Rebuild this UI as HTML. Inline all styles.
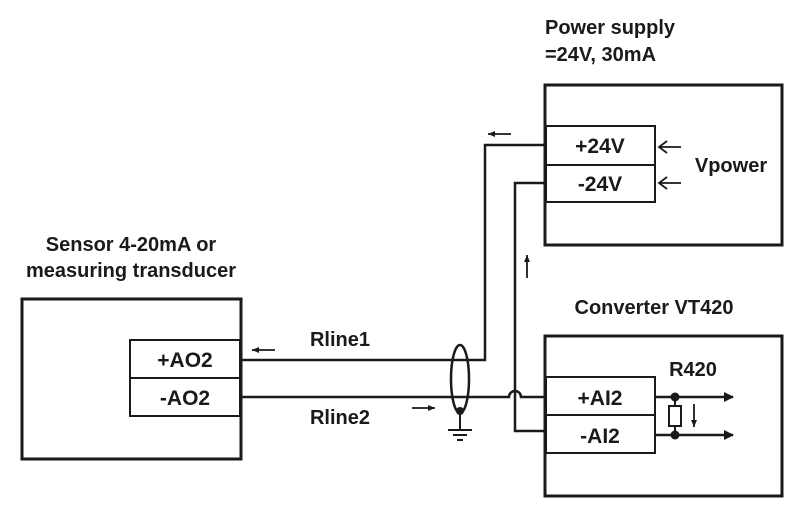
<!DOCTYPE html>
<html><head><style>
body{margin:0;background:#fff}
svg text{font-family:"Liberation Sans",sans-serif;font-weight:bold;fill:#1a1a1a}
</style></head><body>
<svg width="800" height="516" viewBox="0 0 800 516" xmlns="http://www.w3.org/2000/svg">
<defs>
<marker id="ah" markerWidth="10" markerHeight="10" refX="9" refY="5" orient="auto" markerUnits="userSpaceOnUse"><path d="M0,0 L10,5 L0,10 Z" fill="#1a1a1a"/></marker>
<marker id="sa" markerWidth="8" markerHeight="8" refX="7" refY="4" orient="auto" markerUnits="userSpaceOnUse"><path d="M0,1 L7,4 L0,7 Z" fill="#1a1a1a"/></marker>
</defs>
<g stroke="#1a1a1a" fill="none">
<rect x="22" y="299" width="219" height="160" stroke-width="3"/>
<rect x="545" y="85" width="237" height="160" stroke-width="3"/>
<rect x="545" y="336" width="237" height="160" stroke-width="3"/>
<rect x="130" y="340" width="110" height="76" stroke-width="2"/><line x1="130" y1="378" x2="240" y2="378" stroke-width="2"/>
<rect x="546" y="126" width="109" height="76" stroke-width="2"/><line x1="546" y1="165" x2="655" y2="165" stroke-width="2"/>
<rect x="546" y="377" width="109" height="76" stroke-width="2"/><line x1="546" y1="415" x2="655" y2="415" stroke-width="2"/>
<polyline points="241,360 485,360 485,145 546,145" stroke-width="2.5"/>
<path d="M241,397 L509,397 A6,6 0 0 1 521,397 L546,397" stroke-width="2.5"/>
<polyline points="546,183 515,183 515,431 546,431" stroke-width="2.5"/>
<ellipse cx="460" cy="379" rx="9" ry="34" stroke-width="2.5"/>
<line x1="460" y1="411" x2="460" y2="430" stroke-width="2"/>
<line x1="448" y1="430" x2="472" y2="430" stroke-width="2"/>
<line x1="453" y1="435" x2="467" y2="435" stroke-width="2"/>
<line x1="457" y1="440" x2="463" y2="440" stroke-width="2"/>
<line x1="655" y1="397" x2="733" y2="397" stroke-width="2.5" marker-end="url(#ah)"/>
<line x1="655" y1="435" x2="733" y2="435" stroke-width="2.5" marker-end="url(#ah)"/>
<line x1="675" y1="397" x2="675" y2="435" stroke-width="2"/>
<rect x="669" y="406" width="12" height="20" fill="#fff" stroke-width="2"/>
<line x1="275" y1="350" x2="252" y2="350" stroke-width="1.8" marker-end="url(#sa)"/>
<line x1="412" y1="408" x2="435" y2="408" stroke-width="1.8" marker-end="url(#sa)"/>
<line x1="511" y1="134" x2="488" y2="134" stroke-width="1.8" marker-end="url(#sa)"/>
<line x1="527" y1="278" x2="527" y2="255" stroke-width="1.8" marker-end="url(#sa)"/>
<line x1="694" y1="404" x2="694" y2="427" stroke-width="1.8" marker-end="url(#sa)"/>
<path d="M681,147 L659,147 M667,141 L659,147 L667,153" stroke-width="1.8"/>
<path d="M681,183 L659,183 M667,177 L659,183 L667,189" stroke-width="1.8"/>
</g>
<circle cx="460" cy="411" r="4" fill="#1a1a1a"/>
<circle cx="675" cy="397" r="4.5" fill="#1a1a1a"/>
<circle cx="675" cy="435" r="4.5" fill="#1a1a1a"/>
<g font-size="21" text-anchor="middle">
<text x="185" y="367">+AO2</text>
<text x="185" y="405">-AO2</text>
<text x="600" y="153">+24V</text>
<text x="600" y="191">-24V</text>
<text x="600" y="405">+AI2</text>
<text x="600" y="443">-AI2</text>
</g>
<g font-size="20" text-anchor="middle">
<text x="340" y="346">Rline1</text>
<text x="340" y="424">Rline2</text>
<text x="731" y="172">Vpower</text>
<text x="693" y="376">R420</text>
<text x="654" y="314">Converter VT420</text>
<text x="131" y="251">Sensor 4-20mA or</text>
<text x="131" y="277">measuring transducer</text>
</g>
<g font-size="20">
<text x="545" y="34">Power supply</text>
<text x="545" y="61">=24V, 30mA</text>
</g>
</svg>
</body></html>
